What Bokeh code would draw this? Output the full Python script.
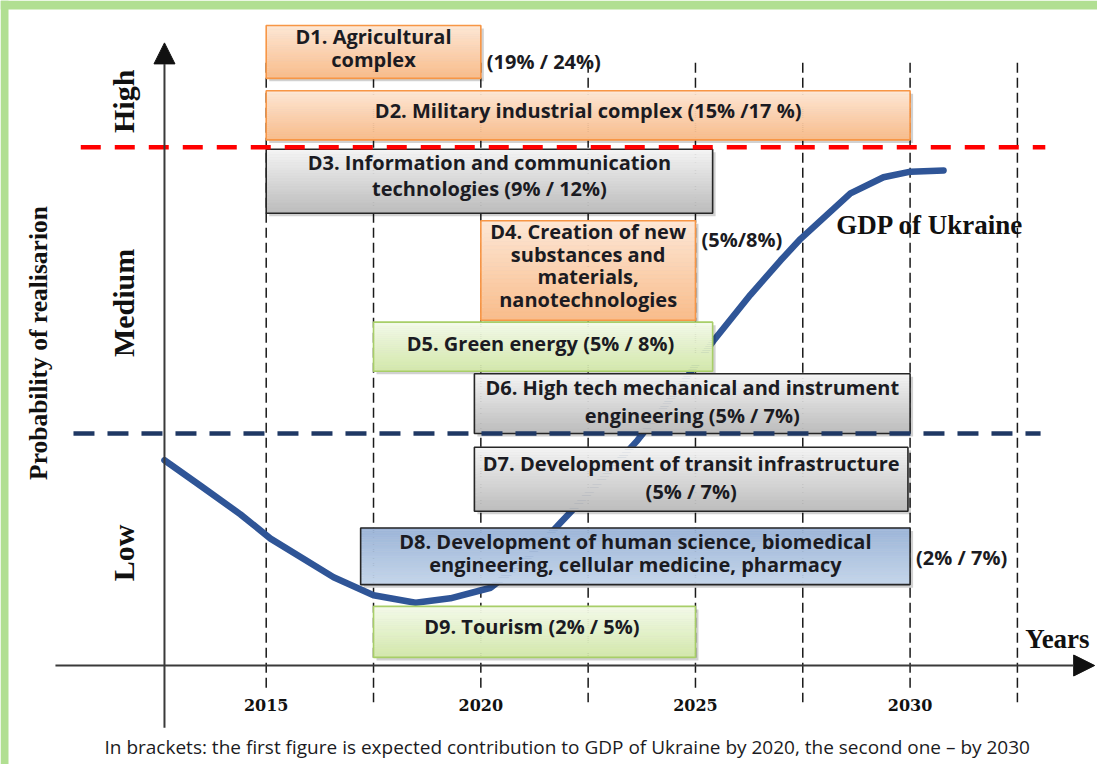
import numpy as np
from bokeh.plotting import figure
from bokeh.models import Range1d, Arrow, NormalHead
from bokeh.core.properties import value
from bokeh.embed import file_html
from bokeh.resources import INLINE

# ---------------- data ----------------
box_ids = ["D1", "D2", "D3", "D4", "D5", "D6", "D7", "D8", "D9"]
box_labels = [
    "D1. Agricultural\ncomplex",
    "D2. Military industrial complex (15% /17 %)",
    "D3. Information and communication\ntechnologies (9% / 12%)",
    "D4. Creation of new\nsubstances and\nmaterials,\nnanotechnologies",
    "D5. Green energy  (5% / 8%)",
    "D6. High tech mechanical and instrument\nengineering (5% / 7%)",
    "D7. Development of transit infrastructure\n(5% / 7%)",
    "D8. Development of human science, biomedical\nengineering, cellular medicine, pharmacy",
    "D9. Tourism  (2% / 5%)",
]
box_start = [2015.0, 2015.0, 2015.0, 2020.0, 2017.5, 2019.85, 2019.85, 2017.2, 2017.5]
box_end = [2020.0, 2030.0, 2025.4, 2025.0, 2025.4, 2030.0, 2029.95, 2030.0, 2025.0]
box_top = [102.9, 92.4, 83.0, 71.5, 55.2, 46.9, 35.1, 22.1, 9.5]
box_bottom = [94.4, 84.5, 72.7, 55.5, 47.3, 37.3, 24.8, 13.0, 1.3]
box_group = ["orange", "orange", "gray", "orange", "green", "gray", "gray", "blue", "green"]

ext_label_box = ["D1", "D4", "D8"]
ext_label_text = ["(19% / 24%)", "(5%/8%)", "(2% / 7%)"]
ext_label_y = [97.1, 68.5, 17.4]

gdp_years = [2012.63, 2013.47, 2014.40, 2015.10, 2016.57, 2017.50, 2018.48, 2019.29,
             2020.23, 2021.04, 2021.86, 2022.79, 2023.65, 2024.54, 2025.42, 2026.28,
             2026.98, 2027.45, 2028.61, 2029.38, 2030.01, 2030.78]
gdp_index = [33.0, 28.9, 24.3, 20.4, 14.2, 11.3, 10.1, 10.8,
             12.5, 16.9, 23.0, 29.7, 36.2, 43.9, 52.2, 59.6,
             65.1, 68.6, 75.9, 78.5, 79.4, 79.6]

threshold_high = 83.3
threshold_low = 37.3
level_names = ["Low", "Medium", "High"]
level_label_y = [18.1, 58.3, 90.7]

grid_years = [2015, 2017.5, 2020, 2022.5, 2025, 2027.5, 2030, 2032.5]
tick_years = [2015, 2020, 2025, 2030]
tick_labels = ["2015", "2020", "2025", "2030"]

axis_origin_year = 2012.63
note_text = ("In brackets: the first figure is expected contribution to GDP of Ukraine "
             "by 2020, the  second one \u2013 by 2030")

# ---------------- styles ----------------
W, H = 1097, 764
X0, X1 = 2008.810, 2034.366
Y0, Y1 = -15.916, 106.913
PX = (X1 - X0) / W   # one pixel in x data units
PY = (Y1 - Y0) / H   # one pixel in y data units

palette = {
    "orange": ("#fde7d6", "#f9bc8a", "#f79646"),
    "gray": ("#f5f5f5", "#bcbcbc", "#262626"),
    "green": ("#f4faea", "#d3e8ab", "#a8ce68"),
    "blue": ("#9cb5d8", "#c5d6eb", "#262626"),
}
line_gap_px = {"D1": 23, "D2": 0, "D3": 26.5, "D4": 22.7, "D5": 0,
               "D6": 27.5, "D7": 28.5, "D8": 23.5, "D9": 0}
text_shift_px = {"D1": 4, "D2": 5, "D3": 6, "D4": 5, "D5": 3,
                 "D6": 2, "D7": 1.5, "D8": 3.5, "D9": 5.5}
TEXT_COLOR = "#1b1b22"
BOX_FONT = value("Open Sans")
FRAME_GREEN = "#b1df92"


def hex2rgb(h):
    h = h.lstrip("#")
    return [int(h[i:i + 2], 16) for i in (0, 2, 4)]


def mix(c1, c2, t):
    a, b = hex2rgb(c1), hex2rgb(c2)
    return "#%02x%02x%02x" % tuple(int(round(a[i] + (b[i] - a[i]) * t)) for i in range(3))


p = figure(width=W, height=H, x_range=Range1d(X0, X1), y_range=Range1d(Y0, Y1),
           output_backend="svg", toolbar_location=None,
           x_axis_location=None, y_axis_location=None,
           min_border_left=0, min_border_top=0, min_border_right=0, min_border_bottom=0,
           border_fill_color="white", background_fill_color="white",
           outline_line_color=None)
p.grid.visible = False
p.title.visible = False

# green picture frame (top and left bands)
p.quad(left=[X0, X0], right=[X1, X0 + 8 * PX], top=[Y1, Y1], bottom=[Y1 - 9 * PY, Y0],
       fill_color=FRAME_GREEN, line_color=None)

# vertical dashed year lines
p.segment(x0=grid_years, x1=grid_years,
          y0=[96.9] * len(grid_years),
          y1=[-3.7 if float(g).is_integer() else -5.9 for g in grid_years],
          line_color="#1a1a1a", line_width=1.5, line_dash="10 5")

# GDP curve
p.line(gdp_years, gdp_index, line_color="#2f5597", line_width=6.5,
       line_cap="round", line_join="round")

# boxes: shadow, gradient strips, border
p.quad(left=[s + 3 * PX for s in box_start], right=[e + 3 * PX for e in box_end],
       top=[t - 3 * PY for t in box_top], bottom=[b - 3 * PY for b in box_bottom],
       fill_color="black", fill_alpha=0.18, line_color=None)

N = 24
sl, sr, st, sb, sc = [], [], [], [], []
for s, e, t, b, g in zip(box_start, box_end, box_top, box_bottom, box_group):
    c_top, c_bot, _ = palette[g]
    for k in range(N):
        sl.append(s)
        sr.append(e)
        st.append(t - (t - b) * k / N)
        sb.append(t - (t - b) * (k + 1) / N)
        sc.append(mix(c_top, c_bot, (k + 0.5) / N))
p.quad(left=sl, right=sr, top=st, bottom=sb, fill_color=sc, line_color=sc, line_width=0.5)
p.quad(left=box_start, right=box_end, top=box_top, bottom=box_bottom,
       fill_color=None, line_color=[palette[g][2] for g in box_group], line_width=1.6)

# box texts
tx, ty, tt = [], [], []
for bid, lab, s, e, t, b in zip(box_ids, box_labels, box_start, box_end, box_top, box_bottom):
    lines = lab.split("\n")
    n = len(lines)
    cy = (t + b) / 2 + text_shift_px[bid] * PY
    for i, ln in enumerate(lines):
        tx.append((s + e) / 2)
        ty.append(cy + ((n - 1) / 2 - i) * line_gap_px[bid] * PY)
        tt.append(ln)
p.text(tx, ty, tt, text_font=BOX_FONT, text_font_style="bold", text_font_size="20px",
       text_align="center", text_baseline="middle", text_color=TEXT_COLOR)

# external share labels
ex = [box_end[box_ids.index(bid)] + 6 * PX for bid in ext_label_box]
p.text(ex, ext_label_y, ext_label_text, text_font=BOX_FONT, text_font_style="bold",
       text_font_size="20px", text_align="left", text_baseline="middle", text_color=TEXT_COLOR)

# threshold lines
p.line([2010.68, 2033.15], [threshold_high] * 2, line_color="#ff0000", line_width=4.5,
       line_dash="20 14")
p.line([2010.51, 2033.04], [threshold_low] * 2, line_color="#1f3864", line_width=4.5,
       line_dash="21 13")

# axes with arrows
p.add_layout(Arrow(end=NormalHead(size=21, fill_color="#111111", line_color="#111111"),
                   x_start=axis_origin_year, y_start=-10.0, x_end=axis_origin_year, y_end=100.1,
                   line_color="#3a3a3a", line_width=2))
p.add_layout(Arrow(end=NormalHead(size=21, fill_color="#111111", line_color="#111111"),
                   x_start=2010.09, y_start=0, x_end=2034.30, y_end=0,
                   line_color="#3a3a3a", line_width=2))

# tick labels
p.text(tick_years, [-6.4] * len(tick_years), tick_labels, text_font=value("DejaVu Serif"),
       text_font_style="bold", text_font_size="16px", text_align="center",
       text_baseline="middle", text_color="#111111")

# level labels (rotated)
p.text([2011.68] * 3, level_label_y, level_names, angle=np.pi / 2,
       text_font=value("Liberation Serif"), text_font_style="bold", text_font_size="30px",
       text_align="center", text_baseline="middle", text_color="#111111")
p.text([2009.70], [51.85], ["Probability of realisarion"], angle=np.pi / 2,
       text_font=value("Liberation Serif"), text_font_style="bold", text_font_size="25.5px",
       text_align="center", text_baseline="middle", text_color="#111111")

# other labels
p.text([2032.68], [4.3], ["Years"], text_font=value("Liberation Serif"),
       text_font_style="bold", text_font_size="27px", text_align="left",
       text_baseline="middle", text_color="#111111")
p.text([2028.28], [70.9], ["GDP of Ukraine"], text_font=value("Liberation Serif"),
       text_font_style="bold", text_font_size="27px", text_align="left",
       text_baseline="middle", text_color="#111111")
p.text([2022.07], [-13.1], [note_text], text_font=BOX_FONT, text_font_size="19px",
       text_align="center", text_baseline="middle", text_color="#1b1b22")

open("out.html", "w").write(file_html(p, INLINE))
